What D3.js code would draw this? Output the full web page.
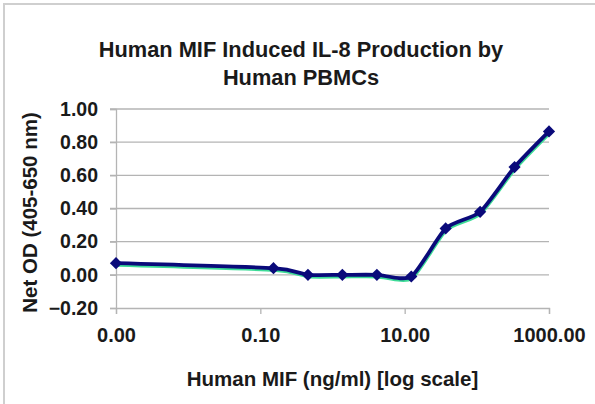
<!DOCTYPE html>
<html><head><meta charset="utf-8">
<script src="https://cdn.jsdelivr.net/npm/d3@7"></script>
<style>body{margin:0;background:#fff}svg{display:block}text{font-family:"Liberation Sans",Arial,sans-serif;font-weight:bold;fill:#1a1a1a}</style>
</head><body><svg id="c" width="595" height="404"></svg>
<script>
const concentrations = [0.001, 0.152, 0.457, 1.37, 4.12, 12.35, 37.0, 111.1, 333.3, 1000];
const netOD = [0.07, 0.04, 0.00, 0.00, 0.00, -0.01, 0.28, 0.38, 0.65, 0.865];
const xTicks = [0.001, 0.1, 10, 1000];
const yTicks = [-0.2, 0, 0.2, 0.4, 0.6, 0.8, 1.0];
const titleLines = ["Human MIF Induced IL-8 Production by", "Human PBMCs"];
const xTitle = "Human MIF (ng/ml) [log scale]";
const yTitle = "Net OD (405-650 nm)";

const svg = d3.select("#c");
const L = 116, R = 549, T = 109, B = 308;
const x = d3.scaleLog().domain([0.001, 1000]).range([L, R]);
const y = d3.scaleLinear().domain([-0.2, 1.0]).range([B, T]);

svg.append("rect").attr("x",4).attr("y",4).attr("width",620).attr("height",420)
  .attr("fill","none").attr("stroke","#cfcfcf").attr("stroke-width",2);

// gridlines
svg.append("g").selectAll("line").data(yTicks.filter(d=>d>-0.2)).join("line")
  .attr("x1",L-6).attr("x2",R).attr("y1",d=>y(d)).attr("y2",d=>y(d))
  .attr("stroke","#b4b4b4").attr("stroke-width",1.3);

const yAxis = svg.append("g").attr("transform",`translate(${L},0)`)
  .call(d3.axisLeft(y).tickValues(yTicks).tickSize(6).tickPadding(12).tickFormat(d3.format(".2f")));
yAxis.select(".domain").attr("stroke","#b4b4b4").attr("stroke-width",1.3);
yAxis.selectAll(".tick line").attr("stroke","#b4b4b4").attr("stroke-width",1.3);
yAxis.selectAll("text").style("font-size","19.5px").attr("fill","#1a1a1a").attr("font-family",null);

const xAxis = svg.append("g").attr("transform",`translate(0,${B})`)
  .call(d3.axisBottom(x).tickValues(xTicks).tickSize(6).tickPadding(14).tickFormat(d3.format(".2f")));
xAxis.select(".domain").attr("stroke","#b4b4b4").attr("stroke-width",1.3);
xAxis.selectAll(".tick line").attr("stroke","#b4b4b4").attr("stroke-width",1.3);
xAxis.selectAll("text").style("font-size","20px").attr("fill","#1a1a1a").attr("font-family",null);

const pts = concentrations.map((c,i)=>[x(c), y(netOD[i])]);
const line = d3.line().curve(d3.curveCardinal.tension(0.35));
svg.append("path").attr("d",line(pts.map(p=>[p[0]+0.5,p[1]+1.8]))).attr("fill","none")
  .attr("stroke","#3ddc97").attr("stroke-width",3.5);
svg.append("path").attr("d",line(pts)).attr("fill","none")
  .attr("stroke","#0a0a7a").attr("stroke-width",3.8);
svg.append("g").selectAll("path").data(pts).join("path")
  .attr("transform",d=>`translate(${d[0]},${d[1]})`)
  .attr("d",d3.symbol(d3.symbolDiamond2,95)).attr("fill","#0a0a7a");

svg.append("text").attr("x",301).attr("y",57).attr("text-anchor","middle").style("font-size","21.8px").text(titleLines[0]);
svg.append("text").attr("x",301).attr("y",85).attr("text-anchor","middle").style("font-size","21.8px").text(titleLines[1]);
svg.append("text").attr("x",(L+R)/2).attr("y",386).attr("text-anchor","middle").style("font-size","20.5px").text(xTitle);
svg.append("text").attr("transform",`translate(37,${(T+B)/2+4}) rotate(-90)`).attr("text-anchor","middle").style("font-size","20.5px").text(yTitle);
</script></body></html>
